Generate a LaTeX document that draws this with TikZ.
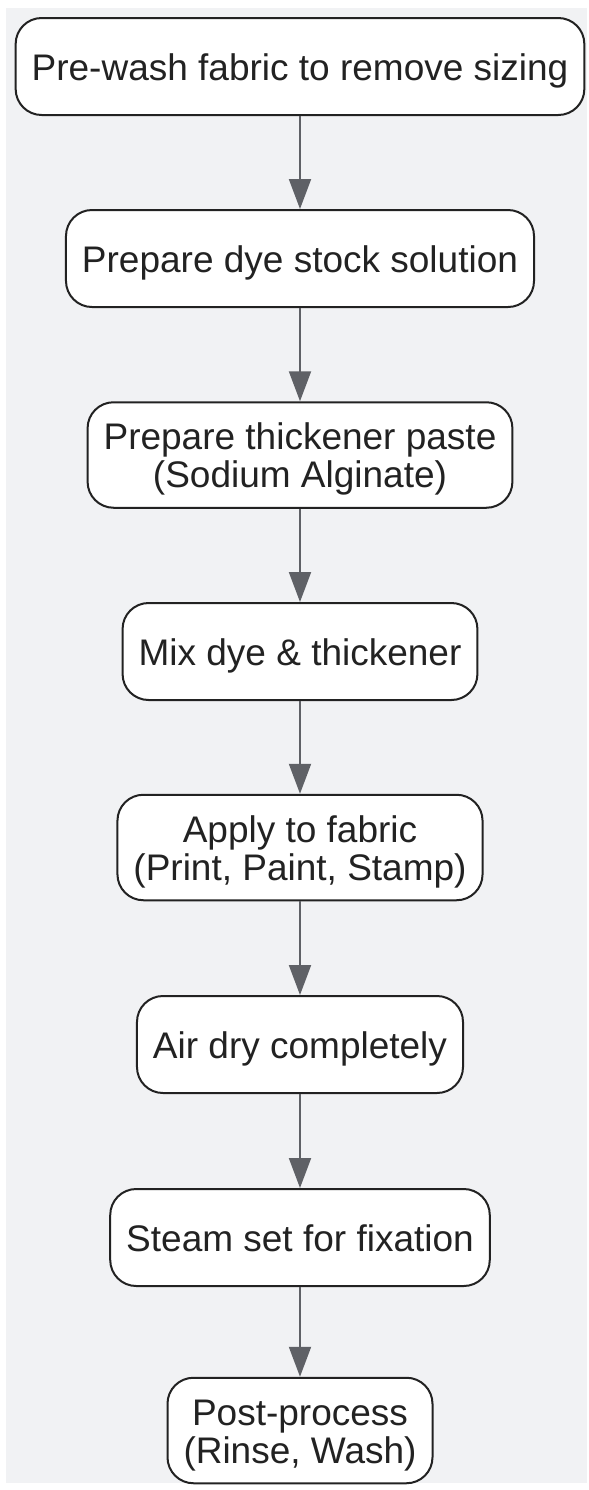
\documentclass[tikz,border=0pt]{standalone}
\usepackage{fontspec}
\setmainfont{Liberation Sans}
\usetikzlibrary{arrows.meta}
\definecolor{bggray}{HTML}{F1F2F4}
\definecolor{edgegray}{HTML}{5F6166}
\definecolor{inkdark}{HTML}{222222}
\tikzset{
  stepbox/.style={draw=inkdark, line width=1pt, fill=white, rounded corners=13pt,
    align=center, inner xsep=8pt, inner ysep=10pt, minimum height=48.5pt,
    text depth=0pt, text=inkdark, font=\fontsize{18.5}{19}\selectfont},
  flowarrow/.style={draw=edgegray, line width=1pt, -{Triangle[length=15pt,width=11pt]}}
}
\begin{document}
\begin{tikzpicture}[x=0.5pt,y=-0.5pt]
\useasboundingbox (0,0) rectangle (589,1490);
\fill[bggray] (6,8) rectangle (587,1483);
% \h = text height above the last baseline
\foreach \i/\y/\h/\t in {1/66.5/13.75pt/{Pre-wash fabric to remove sizing},2/258.5/13.75pt/{Prepare dye stock solution},3/455/32.75pt/{Prepare thickener paste\\(Sodium Alginate)},4/651.5/13.75pt/{Mix dye \& thickener},5/847.5/32.75pt/{Apply to fabric\\(Print, Paint, Stamp)},6/1044.5/13.75pt/{Air dry completely},7/1237.5/13.75pt/{Steam set for fixation},8/1430.5/32.75pt/{Post-process\\(Rinse, Wash)}} {
  \node[stepbox, text height=\h] (S-\i) at (300,\y) {\t};
}
\foreach \i/\j in {1/2,2/3,3/4,4/5,5/6,6/7,7/8} {
  \draw[flowarrow] (S-\i) -- (S-\j);
}
\end{tikzpicture}
\end{document}
